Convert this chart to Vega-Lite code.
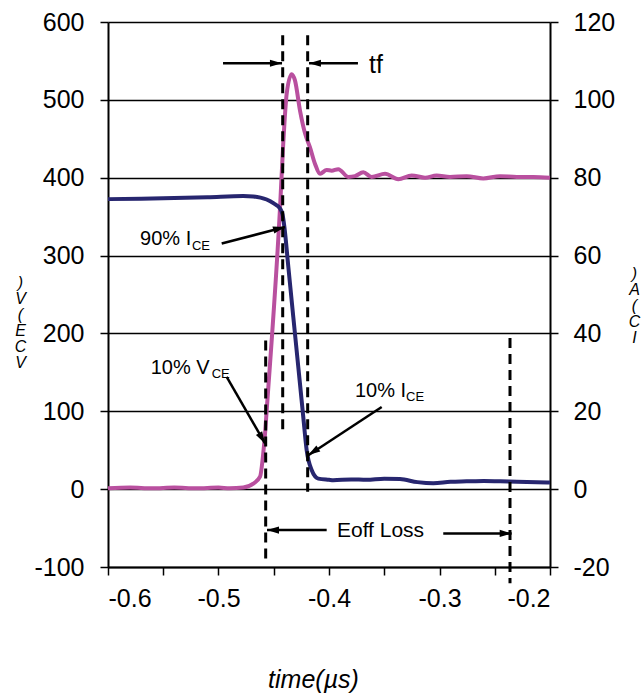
{
  "$schema": "https://vega.github.io/schema/vega-lite/v6.json",
  "autosize": {"type": "none"},
  "padding": {"left": 108, "top": 22, "right": 92, "bottom": 129},
  "width": 442,
  "height": 545,
  "background": "white",
  "config": {
    "view": {"stroke": null},
    "font": "Liberation Sans",
    "axisX": {
      "values": [-0.6, -0.5, -0.4, -0.3, -0.2], "format": ".1f",
      "labelExpr": "replace(datum.label, '\u2212', '-')",
      "grid": false, "domainColor": "black", "domainWidth": 2,
      "tickColor": "black", "tickWidth": 1.5, "tickSize": 8,
      "labelFont": "Liberation Sans", "labelFontSize": 25, "labelColor": "black", "labelPadding": 11,
      "titleFont": "Liberation Sans", "titleFontSize": 25,
      "titleFontStyle": "italic", "titleFontWeight": "normal", "titleColor": "black",
      "titleX": 205, "titleY": 120, "titleAlign": "center", "titleBaseline": "alphabetic"
    }
  },
  "datasets": {
    "vce": [
      {"t": -0.6, "v": 1}, {"t": -0.58, "v": 2}, {"t": -0.56, "v": 1}, {"t": -0.54, "v": 2},
      {"t": -0.52, "v": 1}, {"t": -0.5, "v": 2}, {"t": -0.49, "v": 1}, {"t": -0.4776, "v": 2},
      {"t": -0.4685, "v": 7}, {"t": -0.4624, "v": 16}, {"t": -0.4595, "v": 46}, {"t": -0.4579, "v": 71},
      {"t": -0.4564, "v": 101}, {"t": -0.4443, "v": 362}, {"t": -0.4414, "v": 444}, {"t": -0.4383, "v": 508},
      {"t": -0.4338, "v": 533}, {"t": -0.4308, "v": 525}, {"t": -0.4262, "v": 486}, {"t": -0.4217, "v": 457},
      {"t": -0.4172, "v": 439}, {"t": -0.4127, "v": 418}, {"t": -0.4081, "v": 405}, {"t": -0.4021, "v": 410},
      {"t": -0.3976, "v": 409}, {"t": -0.3916, "v": 411}, {"t": -0.3825, "v": 401}, {"t": -0.3765, "v": 402},
      {"t": -0.369, "v": 407}, {"t": -0.3614, "v": 401}, {"t": -0.3493, "v": 405}, {"t": -0.3373, "v": 398},
      {"t": -0.3252, "v": 403}, {"t": -0.3131, "v": 400}, {"t": -0.3026, "v": 403}, {"t": -0.2905, "v": 401},
      {"t": -0.2754, "v": 402}, {"t": -0.2604, "v": 399}, {"t": -0.2452, "v": 402}, {"t": -0.2301, "v": 401},
      {"t": -0.2151, "v": 401}, {"t": -0.2, "v": 400}
    ],
    "ic": [
      {"t": -0.6, "i": 74.5}, {"t": -0.57, "i": 74.6}, {"t": -0.54, "i": 74.8}, {"t": -0.51, "i": 75.0},
      {"t": -0.4776, "i": 75.3}, {"t": -0.4685, "i": 75.2}, {"t": -0.462, "i": 74.9}, {"t": -0.4564, "i": 74.4},
      {"t": -0.45, "i": 73.4}, {"t": -0.4443, "i": 72.1}, {"t": -0.442, "i": 70.5}, {"t": -0.4404, "i": 67.4},
      {"t": -0.4368, "i": 57.1}, {"t": -0.4323, "i": 44.2}, {"t": -0.4278, "i": 31.4}, {"t": -0.4248, "i": 22.9},
      {"t": -0.4233, "i": 18.6}, {"t": -0.4202, "i": 10}, {"t": -0.4157, "i": 4.9}, {"t": -0.4097, "i": 2.7},
      {"t": -0.4, "i": 2.4}, {"t": -0.3961, "i": 2.3}, {"t": -0.38, "i": 2.5}, {"t": -0.366, "i": 2.4},
      {"t": -0.35, "i": 2.7}, {"t": -0.3357, "i": 2.6}, {"t": -0.32, "i": 1.8}, {"t": -0.3056, "i": 1.5},
      {"t": -0.29, "i": 1.9}, {"t": -0.2754, "i": 2.0}, {"t": -0.26, "i": 2.1}, {"t": -0.2452, "i": 2.0},
      {"t": -0.23, "i": 1.9}, {"t": -0.2, "i": 1.7}
    ],
    "vlines": [
      {"t": -0.4419, "v1": 583, "v2": 72},
      {"t": -0.4193, "v1": 583, "v2": -3.5},
      {"t": -0.4573, "v1": 191, "v2": -89},
      {"t": -0.2362, "v1": 194, "v2": -121}
    ],
    "arrows": [
      {"t1": -0.4959, "v1": 547, "t2": -0.4425, "v2": 547},
      {"t1": -0.3738, "v1": 547, "t2": -0.4181, "v2": 547},
      {"t1": -0.4971, "v1": 315.4, "t2": -0.4398, "v2": 336.7},
      {"t1": -0.4926, "v1": 144.2, "t2": -0.4579, "v2": 58.7},
      {"t1": -0.3523, "v1": 105.6, "t2": -0.4187, "v2": 43.6},
      {"t1": -0.4021, "v1": -52.6, "t2": -0.4561, "v2": -52.6},
      {"t1": -0.2966, "v1": -56.9, "t2": -0.2347, "v2": -56.9}
    ],
    "heads": [
      {"name": "right", "t": -0.448, "v": 547},
      {"name": "left", "t": -0.4127, "v": 547},
      {"name": "left", "t": -0.4507, "v": -52.6},
      {"name": "right", "t": -0.2401, "v": -56.9},
      {"name": "a90", "t": -0.4451, "v": 334.8},
      {"name": "a10v", "t": -0.4606, "v": 65.3},
      {"name": "a10i", "t": -0.4142, "v": 47.9}
    ],
    "labels": [
      {"kind": "main", "t": -0.571, "v": 313.2, "label": "90% I"},
      {"kind": "sub", "t": -0.524, "v": 306.8, "label": "CE"},
      {"kind": "main", "t": -0.5614, "v": 147.6, "label": "10% V"},
      {"kind": "sub", "t": -0.5062, "v": 142.5, "label": "CE"},
      {"kind": "main", "t": -0.3765, "v": 118.1, "label": "10% I"},
      {"kind": "sub", "t": -0.3303, "v": 113, "label": "CE"},
      {"kind": "eoff", "t": -0.3928, "v": -61.6, "label": "Eoff Loss"},
      {"kind": "tf", "t": -0.3638, "v": 534, "label": "tf"}
    ]
  },
  "encoding": {
    "x": {
      "field": "t", "type": "quantitative",
      "scale": {"domain": [-0.6, -0.2], "nice": false, "zero": false},
      "title": "time(µs)"
    }
  },
  "layer": [
    {
      "data": {"name": "vce"},
      "mark": {"type": "line", "color": "#B9509F", "strokeWidth": 4, "interpolate": "monotone"},
      "encoding": {
        "y": {
          "field": "v", "type": "quantitative",
          "scale": {"domain": [-100, 600], "nice": false, "zero": false},
          "axis": {
            "orient": "left",
            "values": [-100, 0, 100, 200, 300, 400, 500, 600], "format": "d",
            "labelExpr": "replace(datum.label, '\u2212', '-')",
            "grid": true, "gridColor": "black", "gridWidth": 1.6, "gridOpacity": 1,
            "domainColor": "black", "domainWidth": 2,
            "tickColor": "black", "tickWidth": 1.5, "tickSize": 8,
            "labelFont": "Liberation Sans", "labelFontSize": 25, "labelColor": "black", "labelPadding": 16,
            "title": [")", "V", "(", "E", "C", "V"], "titleFont": "Liberation Sans", "titleFontSize": 16,
            "titleFontStyle": "italic", "titleFontWeight": "normal", "titleColor": "black",
            "titleAngle": 0, "titleX": -88, "titleY": 252, "titleAlign": "center",
            "titleBaseline": "top", "titleLineHeight": 16
          }
        }
      }
    },
    {
      "data": {"name": "ic"},
      "mark": {"type": "line", "color": "#27266F", "strokeWidth": 4, "interpolate": "monotone"},
      "encoding": {
        "y": {
          "field": "i", "type": "quantitative",
          "scale": {"domain": [-20, 120], "nice": false, "zero": false},
          "axis": {
            "orient": "right",
            "values": [-20, 0, 20, 40, 60, 80, 100, 120], "format": "d",
            "labelExpr": "replace(datum.label, '\u2212', '-')",
            "grid": false, "domainColor": "black", "domainWidth": 2,
            "tickColor": "black", "tickWidth": 1.5, "tickSize": 8,
            "labelFont": "Liberation Sans", "labelFontSize": 25, "labelColor": "black", "labelPadding": 15,
            "title": [")", "A", "(", "C", "I"], "titleFont": "Liberation Sans", "titleFontSize": 16,
            "titleFontStyle": "italic", "titleFontWeight": "normal", "titleColor": "black",
            "titleAngle": 0, "titleX": 84, "titleY": 243, "titleAlign": "center",
            "titleBaseline": "top", "titleLineHeight": 16
          }
        }
      }
    },
    {
      "layer": [
        {
          "mark": {"type": "rule", "color": "#9A9A9A", "strokeWidth": 3},
          "encoding": {"y": {"datum": 600, "type": "quantitative", "scale": {"domain": [-100, 600], "nice": false, "zero": false}, "axis": null}}
        },
        {
          "data": {"name": "vlines"},
          "mark": {"type": "rule", "color": "black", "strokeWidth": 3, "strokeDash": [10, 6]},
          "encoding": {
            "y": {"field": "v1", "type": "quantitative", "scale": {"domain": [-100, 600], "nice": false, "zero": false}, "axis": null},
            "y2": {"field": "v2"}
          }
        },
        {
          "data": {"name": "arrows"},
          "mark": {"type": "rule", "color": "black", "strokeWidth": 2.5},
          "encoding": {
            "x": {"field": "t1", "type": "quantitative", "scale": {"domain": [-0.6, -0.2], "nice": false, "zero": false}, "title": "time(µs)"},
            "x2": {"field": "t2"},
            "y": {"field": "v1", "type": "quantitative", "scale": {"domain": [-100, 600], "nice": false, "zero": false}, "axis": null},
            "y2": {"field": "v2"}
          }
        },
        {
          "data": {"name": "heads"},
          "transform": [{"filter": "datum.name === 'right'"}],
          "mark": {"type": "point", "shape": "M0,-1L0.6,1L-0.6,1Z", "size": 144, "filled": true, "color": "black", "opacity": 1, "angle": 90},
          "encoding": {
            "y": {"field": "v", "type": "quantitative", "scale": {"domain": [-100, 600], "nice": false, "zero": false}, "axis": null}
          }
        },
        {
          "data": {"name": "heads"},
          "transform": [{"filter": "datum.name === 'left'"}],
          "mark": {"type": "point", "shape": "M0,-1L0.6,1L-0.6,1Z", "size": 144, "filled": true, "color": "black", "opacity": 1, "angle": 270},
          "encoding": {
            "y": {"field": "v", "type": "quantitative", "scale": {"domain": [-100, 600], "nice": false, "zero": false}, "axis": null}
          }
        },
        {
          "data": {"name": "heads"},
          "transform": [{"filter": "datum.name === 'a90'"}],
          "mark": {"type": "point", "shape": "M0,-1L0.6,1L-0.6,1Z", "size": 144, "filled": true, "color": "black", "opacity": 1, "angle": 75},
          "encoding": {
            "y": {"field": "v", "type": "quantitative", "scale": {"domain": [-100, 600], "nice": false, "zero": false}, "axis": null}
          }
        },
        {
          "data": {"name": "heads"},
          "transform": [{"filter": "datum.name === 'a10v'"}],
          "mark": {"type": "point", "shape": "M0,-1L0.6,1L-0.6,1Z", "size": 144, "filled": true, "color": "black", "opacity": 1, "angle": 150},
          "encoding": {
            "y": {"field": "v", "type": "quantitative", "scale": {"domain": [-100, 600], "nice": false, "zero": false}, "axis": null}
          }
        },
        {
          "data": {"name": "heads"},
          "transform": [{"filter": "datum.name === 'a10i'"}],
          "mark": {"type": "point", "shape": "M0,-1L0.6,1L-0.6,1Z", "size": 144, "filled": true, "color": "black", "opacity": 1, "angle": 237},
          "encoding": {
            "y": {"field": "v", "type": "quantitative", "scale": {"domain": [-100, 600], "nice": false, "zero": false}, "axis": null}
          }
        },
        {
          "data": {"name": "labels"},
          "transform": [{"filter": "datum.kind === 'main'"}],
          "mark": {"type": "text", "align": "left", "baseline": "alphabetic", "font": "Liberation Sans", "fontSize": 20, "color": "black"},
          "encoding": {
            "y": {"field": "v", "type": "quantitative", "scale": {"domain": [-100, 600], "nice": false, "zero": false}, "axis": null},
            "text": {"field": "label"}
          }
        },
        {
          "data": {"name": "labels"},
          "transform": [{"filter": "datum.kind === 'sub'"}],
          "mark": {"type": "text", "align": "left", "baseline": "alphabetic", "font": "Liberation Sans", "fontSize": 13, "color": "black"},
          "encoding": {
            "y": {"field": "v", "type": "quantitative", "scale": {"domain": [-100, 600], "nice": false, "zero": false}, "axis": null},
            "text": {"field": "label"}
          }
        },
        {
          "data": {"name": "labels"},
          "transform": [{"filter": "datum.kind === 'eoff'"}],
          "mark": {"type": "text", "align": "left", "baseline": "alphabetic", "font": "Liberation Sans", "fontSize": 21, "color": "black"},
          "encoding": {
            "y": {"field": "v", "type": "quantitative", "scale": {"domain": [-100, 600], "nice": false, "zero": false}, "axis": null},
            "text": {"field": "label"}
          }
        },
        {
          "data": {"name": "labels"},
          "transform": [{"filter": "datum.kind === 'tf'"}],
          "mark": {"type": "text", "align": "left", "baseline": "alphabetic", "font": "Liberation Sans", "fontSize": 25, "color": "black"},
          "encoding": {
            "y": {"field": "v", "type": "quantitative", "scale": {"domain": [-100, 600], "nice": false, "zero": false}, "axis": null},
            "text": {"field": "label"}
          }
        }
      ]
    }
  ],
  "resolve": {"scale": {"y": "independent"}}
}
